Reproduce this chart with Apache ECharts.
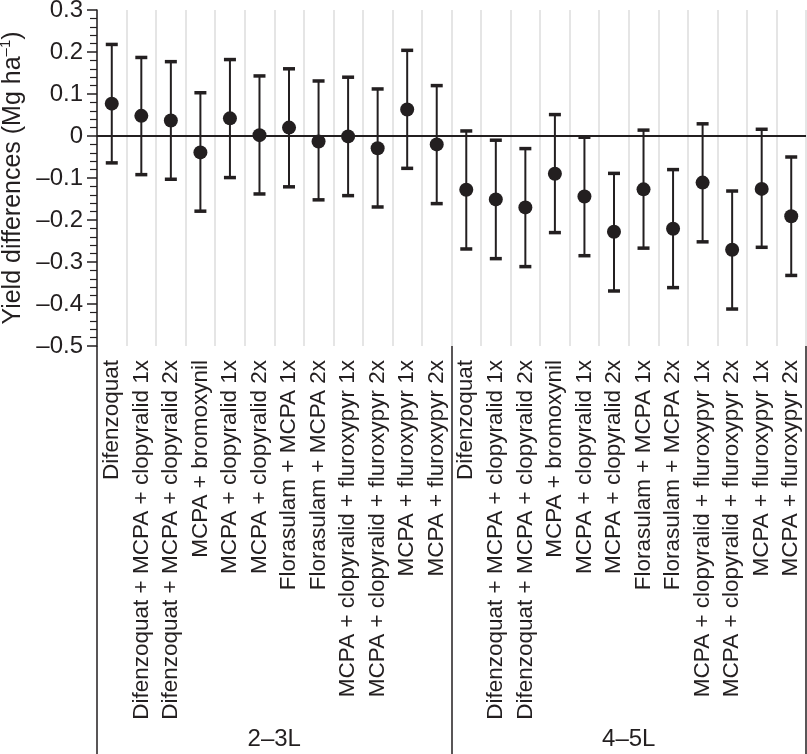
<!DOCTYPE html>
<html>
<head>
<meta charset="utf-8">
<script src="https://cdn.jsdelivr.net/npm/echarts@6/dist/echarts.min.js"></script>
<style>
  html, body { margin: 0; padding: 0; background: #fff; }
  #main { width: 807px; height: 754px; }
</style>
</head>
<body>
<div id="main"></div>
<script>
// treatments, same order in both leaf stages
const treatments = [
  'Difenzoquat',
  'Difenzoquat + MCPA + clopyralid 1x',
  'Difenzoquat + MCPA + clopyralid 2x',
  'MCPA + bromoxynil',
  'MCPA + clopyralid 1x',
  'MCPA + clopyralid 2x',
  'Florasulam + MCPA 1x',
  'Florasulam + MCPA 2x',
  'MCPA + clopyralid + fluroxypyr 1x',
  'MCPA + clopyralid + fluroxypyr 2x',
  'MCPA + fluroxypyr 1x',
  'MCPA + fluroxypyr 2x'
]
const stages = ['2–3L', '4–5L']

// 2-3 leaf stage
const mean23 = [0.077, 0.048, 0.037, -0.039, 0.042, 0.002, 0.020, -0.013, -0.001, -0.029, 0.063, -0.020]
const low23 = [-0.064, -0.092, -0.103, -0.179, -0.099, -0.138, -0.121, -0.152, -0.142, -0.169, -0.077, -0.161]
const high23 = [0.218, 0.187, 0.177, 0.103, 0.182, 0.143, 0.160, 0.131, 0.140, 0.112, 0.204, 0.120]

// 4-5 leaf stage
const mean45 = [-0.128, -0.151, -0.170, -0.090, -0.144, -0.228, -0.127, -0.221, -0.111, -0.271, -0.126, -0.191]
const low45 = [-0.269, -0.292, -0.311, -0.230, -0.285, -0.369, -0.267, -0.361, -0.252, -0.412, -0.265, -0.332]
const high45 = [0.012, -0.010, -0.030, 0.051, -0.003, -0.089, 0.014, -0.080, 0.029, -0.131, 0.016, -0.050]

const categories = treatments.concat(treatments)
const means = mean23.concat(mean45)
const lows = low23.concat(low45)
const highs = high23.concat(high45)

const ink = '#231f20'
const font = '"Liberation Sans", Arial, Helvetica, sans-serif'

const chart = echarts.init(document.getElementById('main'))

const fmtY = v => {
  if (Math.abs(v) < 1e-9) return '0'
  return (v < 0 ? '–' : '') + Math.abs(v).toFixed(1)
}

chart.setOption({
  animation: false,
  textStyle: { fontFamily: font, color: ink },
  grid: { left: 97, right: 1, top: 10, bottom: 408, containLabel: false, outerBoundsMode: 'none' },
  xAxis: [
    {
      type: 'category',
      data: categories.map((c, i) => i + ':' + c),
      boundaryGap: true,
      axisLine: { show: false },
      axisTick: { show: false },
      splitLine: { show: true, interval: 0, lineStyle: { color: '#dcdcdc', width: 1.5 } },
      axisLabel: {
        interval: 0,
        rotate: 90,
        margin: 14,
        fontSize: 22.5,
        color: ink,
        fontFamily: font,
        formatter: v => v.slice(v.indexOf(':') + 1)
      }
    },
    {
      type: 'category',
      data: stages,
      position: 'bottom',
      gridIndex: 0,
      axisLine: { show: false },
      axisTick: { show: true, length: 410, lineStyle: { color: ink, width: 1.5 } },
      axisLabel: { margin: 381, fontSize: 24, color: ink, fontFamily: font },
      splitLine: { show: false }
    }
  ],
  yAxis: {
    type: 'value',
    min: -0.5,
    max: 0.3,
    interval: 0.1,
    name: '{t|Yield differences (Mg ha}{s|–1}{t|)}',
    nameLocation: 'middle',
    nameGap: 66,
    nameRotate: 90,
    nameTextStyle: {
      rich: {
        t: { fontSize: 25, fontFamily: font, color: ink, lineHeight: 30 },
        s: { fontSize: 15, fontFamily: font, color: ink, verticalAlign: 'top', lineHeight: 30, padding: [0, 0, 12, 0] }
      }
    },
    axisLine: { show: true, lineStyle: { color: ink, width: 1.5 } },
    axisTick: { show: true, length: 10, lineStyle: { color: ink, width: 1.5 } },
    minorTick: { show: true, splitNumber: 5, length: 7, lineStyle: { color: ink, width: 1.2 } },
    splitLine: { show: false },
    axisLabel: { fontSize: 24, color: ink, fontFamily: font, margin: 14, formatter: fmtY }
  },
  series: [
    {
      type: 'custom',
      xAxisIndex: 0,
      z: 3,
      data: categories.map((c, i) => [i, lows[i], highs[i]]),
      renderItem(params, api) {
        const x = api.value(0)
        const lo = api.coord([x, api.value(1)])
        const hi = api.coord([x, api.value(2)])
        const half = 6
        const style = { stroke: ink, lineWidth: 2 }
        const capStyle = { stroke: ink, lineWidth: 3.5 }
        return {
          type: 'group',
          children: [
            { type: 'line', shape: { x1: hi[0], y1: hi[1], x2: lo[0], y2: lo[1] }, style },
            { type: 'line', shape: { x1: hi[0] - half, y1: hi[1], x2: hi[0] + half, y2: hi[1] }, style: capStyle },
            { type: 'line', shape: { x1: lo[0] - half, y1: lo[1], x2: lo[0] + half, y2: lo[1] }, style: capStyle }
          ]
        }
      }
    },
    {
      type: 'scatter',
      xAxisIndex: 0,
      z: 4,
      symbol: 'circle',
      symbolSize: 14,
      itemStyle: { color: ink, opacity: 1 },
      data: means.map((m, i) => [i, m]),
      markLine: {
        silent: true,
        symbol: 'none',
        label: { show: false },
        lineStyle: { color: ink, type: 'solid', width: 1.8 },
        data: [{ yAxis: 0 }]
      }
    }
  ]
})
</script>
</body>
</html>
